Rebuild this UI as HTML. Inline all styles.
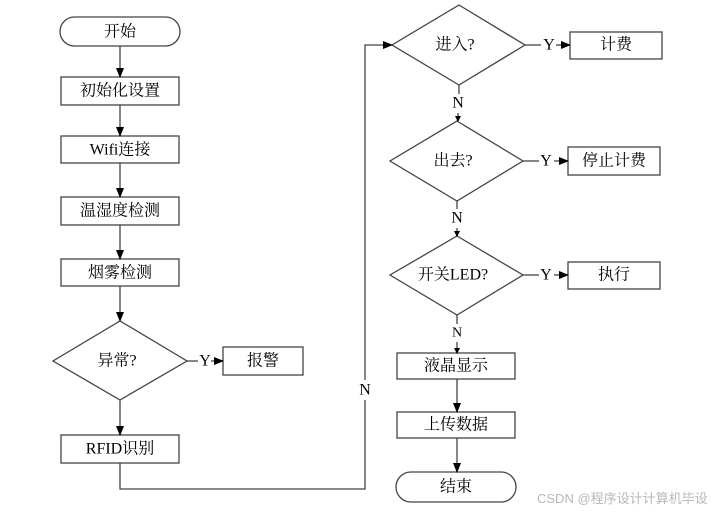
<!DOCTYPE html>
<html><head><meta charset="utf-8"><style>
html,body{margin:0;padding:0;background:#fff;}
svg text{font-family:"Liberation Serif","Noto Serif CJK SC","Noto Sans CJK SC",serif;font-size:16px;fill:#000;}
</style></head><body>
<svg width="717" height="511" viewBox="0 0 717 511" xmlns="http://www.w3.org/2000/svg">
<defs><marker id="a" markerWidth="10" markerHeight="8" refX="9" refY="4" orient="auto" markerUnits="userSpaceOnUse"><path d="M0,0 L10,4 L0,8 z" fill="#000"/></marker>
<marker id="s" markerWidth="6" markerHeight="6" refX="5" refY="3" orient="auto" markerUnits="userSpaceOnUse"><path d="M0,0 L6,3 L0,6 z" fill="#000"/></marker></defs>
<g fill="#fff" stroke="#444" stroke-width="1.3">
<rect x="60" y="17" width="120" height="29" rx="14.5"/>
<rect x="61" y="77" width="118" height="28"/>
<rect x="61" y="136" width="118" height="27"/>
<rect x="61" y="197" width="118" height="28"/>
<rect x="61" y="259" width="118" height="27"/>
<polygon points="120,321 187,361 120,400 53,361"/>
<rect x="223" y="347" width="80" height="28"/>
<rect x="61" y="435" width="118" height="28"/>
<polygon points="459,5 525,45 459,85 392,45"/>
<rect x="570" y="32" width="92" height="27"/>
<polygon points="457,121 523,161 457,201 390,161"/>
<rect x="568" y="147" width="92" height="28"/>
<polygon points="457,236 523,275 457,315 390,275"/>
<rect x="568" y="262" width="92" height="27"/>
<rect x="397" y="353" width="118" height="26"/>
<rect x="397" y="412" width="118" height="26"/>
<rect x="396" y="472" width="120" height="30" rx="15"/>
</g>
<g stroke="#444" stroke-width="1.3" fill="none">
<line x1="120" y1="46" x2="120" y2="77" marker-end="url(#a)"/>
<line x1="120" y1="105" x2="120" y2="136" marker-end="url(#a)"/>
<line x1="120" y1="163" x2="120" y2="197" marker-end="url(#a)"/>
<line x1="120" y1="225" x2="120" y2="259" marker-end="url(#a)"/>
<line x1="120" y1="286" x2="120" y2="321" marker-end="url(#a)"/>
<line x1="120" y1="400" x2="120" y2="435" marker-end="url(#a)"/>
<line x1="187" y1="361" x2="198" y2="361"/>
<line x1="211" y1="361" x2="223" y2="361" marker-end="url(#a)"/>
<polyline points="120,463 120,489 365,489 365,400"/>
<polyline points="365,380 365,45 392,45" marker-end="url(#a)"/>
<line x1="525" y1="45" x2="541" y2="45"/>
<line x1="556" y1="45" x2="570" y2="45" marker-end="url(#a)"/>
<line x1="523" y1="161" x2="539" y2="161"/>
<line x1="554" y1="161" x2="568" y2="161" marker-end="url(#a)"/>
<line x1="523" y1="275" x2="539" y2="275"/>
<line x1="554" y1="275" x2="568" y2="275" marker-end="url(#a)"/>
<line x1="459" y1="85" x2="459" y2="94"/>
<line x1="458" y1="113" x2="458" y2="121" marker-end="url(#s)"/>
<line x1="457" y1="201" x2="457" y2="209"/>
<line x1="457" y1="228" x2="457" y2="236" marker-end="url(#s)"/>
<line x1="457" y1="315" x2="457" y2="324"/>
<line x1="457" y1="342" x2="457" y2="353" marker-end="url(#s)"/>
<line x1="457" y1="379" x2="457" y2="412" marker-end="url(#a)"/>
<line x1="457" y1="438" x2="457" y2="472" marker-end="url(#a)"/>
</g>
<g text-anchor="middle" dominant-baseline="central">
<text x="120" y="32">开始</text>
<text x="120" y="91">初始化设置</text>
<text x="120" y="150">Wifi连接</text>
<text x="120" y="211">温湿度检测</text>
<text x="120" y="273">烟雾检测</text>
<text x="117" y="361">异常?</text>
<text x="205" y="361">Y</text>
<text x="263" y="361">报警</text>
<text x="120" y="449">RFID识别</text>
<text x="365" y="390">N</text>
<text x="455" y="45">进入?</text>
<text x="549" y="45">Y</text>
<text x="616" y="45">计费</text>
<text x="458" y="103">N</text>
<text x="453" y="161">出去?</text>
<text x="546" y="161">Y</text>
<text x="614" y="161">停止计费</text>
<text x="457" y="218">N</text>
<text x="453" y="275">开关LED?</text>
<text x="546" y="275">Y</text>
<text x="614" y="275">执行</text>
<text x="457" y="333" style="font-size:14px">N</text>
<text x="456" y="366">液晶显示</text>
<text x="456" y="425">上传数据</text>
<text x="456" y="487">结束</text>
</g>
<text x="537" y="503" style="font-family:'Liberation Sans','Noto Sans CJK SC',sans-serif;font-size:13px;fill:#b8b8b8">CSDN @程序设计计算机毕设</text>
</svg>
</body></html>
